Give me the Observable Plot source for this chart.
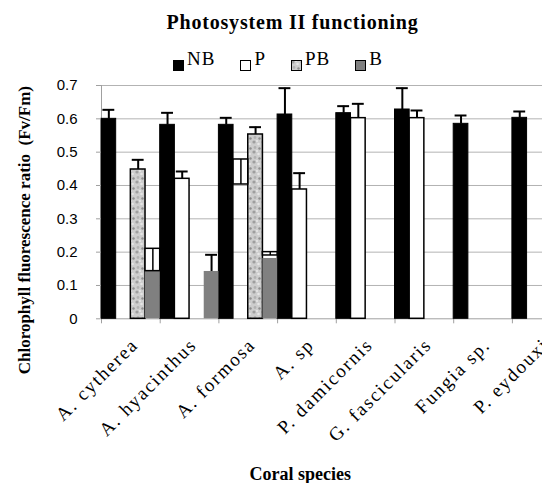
<!DOCTYPE html>
<html>
<head>
<meta charset="utf-8">
<script src="https://cdn.jsdelivr.net/npm/d3@7"></script>
<script src="https://cdn.jsdelivr.net/npm/@observablehq/plot@0.6"></script>
<style>
  html, body { margin: 0; padding: 0; background: #fff; overflow: hidden; width: 542px; height: 483px; }
  #head { position: relative; width: 542px; height: 70px; z-index: 0; }
  #title { position: absolute; left: 0; width: 585px; top: 12px; text-align: center;
           font-family: "Liberation Serif"; font-weight: bold; font-size: 20px; line-height: 20px;
           letter-spacing: 0.8px; white-space: nowrap; color: #000; }
  #legend { position: absolute; left: 173px; top: 49px; display: flex; gap: 25px;
            font-family: "Liberation Serif"; font-size: 19px; line-height: 19px; color: #000; }
  .item { display: flex; align-items: flex-start; }
  .item svg { margin-top: 10.5px; margin-right: 3px; display: block; }
  .item span { letter-spacing: 1px; white-space: nowrap; }
  #chart { position: relative; z-index: 1; }
  #chart svg { display: block; max-width: none !important; overflow: visible; background: transparent !important; }
  #defs { position: absolute; width: 0; height: 0; }
</style>
</head>
<body>
<svg id="defs" width="0" height="0">
  <defs>
    <pattern id="pbTexture" patternUnits="userSpaceOnUse" width="9" height="10">
      <rect width="9" height="10" fill="#cdcdcd"></rect>
      <circle cx="2" cy="2" r="1.6" fill="#9e9e9e"></circle>
      <circle cx="6.5" cy="4" r="1.3" fill="#e6e6e6"></circle>
      <circle cx="3" cy="7.5" r="1.4" fill="#b2b2b2"></circle>
      <circle cx="7.5" cy="8.5" r="1.2" fill="#8e8e8e"></circle>
      <circle cx="5" cy="1" r="0.9" fill="#ececec"></circle>
    </pattern>
  </defs>
</svg>
<div id="head">
  <div id="title"></div>
  <div id="legend"></div>
</div>
<div id="chart"></div>
<script>
// ---------- data ----------
const chartTitle = "Photosystem II functioning";
const xTitle = "Coral species";
const yTitle = "Chlorophyll fluorescence ratio\u00a0 (Fv/Fm)";
const species = ["A. cytherea", "A. hyacinthus", "A. formosa", "A. sp", "P. damicornis", "G. fascicularis", "Fungia sp.", "P. eydouxi"];
const series = ["NB", "P", "PB", "B"];
const nbMean = [0.600, 0.582, 0.582, 0.613, 0.617, 0.628, 0.585, 0.603];
const nbErr  = [0.027, 0.036, 0.021, 0.079, 0.021, 0.064, 0.025, 0.019];
const pMean  = [null, 0.420, null, 0.388, 0.602, 0.602, null, null];
const pErr   = [null, 0.022, null, 0.049, 0.043, 0.023, null, null];
const pbMean = [0.448, null, 0.553, null, null, null, null, null];
const pbErr  = [0.029, null, 0.022, null, null, null, null, null];
const bMean  = [0.143, 0.142, 0.181, null, null, null, null, null];
const bErr   = [null, 0.050, null, null, null, null, null, null];
// error ranges drawn as open boxes in the original
const boxSpecies = ["A. cytherea", "A. formosa", "A. formosa"];
const boxSeries  = ["B", "P", "B"];
const boxLow     = [0.143, 0.403, 0.190];
const boxHigh    = [0.210, 0.478, 0.200];
const yTicks = [0, 0.1, 0.2, 0.3, 0.4, 0.5, 0.6, 0.7];
const yTickLabels = ["0", "0.1", "0.2", "0.3", "0.4", "0.5", "0.6", "0.7"];

// ---------- styles ----------
const seriesStyle = {
  NB: {fill: "black", stroke: "black", strokeWidth: 1},
  P:  {fill: "white", stroke: "black", strokeWidth: 1.5},
  PB: {fill: "url(#pbTexture)", stroke: "black", strokeWidth: 1.5},
  B:  {fill: "#808080", stroke: "none"}
};
const gridColor = "#b3b3b3";
const axisColor = "#a0a0a0";

// ---------- table ----------
const means = {NB: nbMean, P: pMean, PB: pbMean, B: bMean};
const errs = {NB: nbErr, P: pErr, PB: pbErr, B: bErr};
const rows = [];
for (const s of series) species.forEach((sp, i) => {
  if (means[s][i] != null) rows.push({species: sp, series: s, mean: means[s][i], err: errs[s][i]});
});
const boxes = boxSpecies.map((sp, i) => ({species: sp, series: boxSeries[i], lo: boxLow[i], hi: boxHigh[i]}));

// ---------- header ----------
document.getElementById("title").textContent = chartTitle;
const legend = document.getElementById("legend");
for (const s of series) {
  const item = document.createElement("div");
  item.className = "item";
  const st = seriesStyle[s];
  item.innerHTML = `<svg width="11" height="11"><rect x="0.5" y="0.5" width="10" height="10" fill="${st.fill}" stroke="black" stroke-width="1"></rect></svg><span>${s}</span>`;
  legend.appendChild(item);
}

// ---------- plot ----------
const W = 590, H = 413;
const mL = 101, mR = 19.4, mT = 15, mB = 164.7;
const band = (W - mL - mR) / species.length;
const slot = band / series.length;

const marks = [
  Plot.ruleY(yTicks.filter(d => d > 0), {stroke: gridColor, strokeWidth: 1}),
  Plot.ruleY([0], {stroke: axisColor}),
  Plot.ruleX([species[0]], {x: d => d, y1: 0, y2: 0.7, dx: -band / 2, stroke: axisColor}),
  Plot.ruleX(species, {x: d => d, y1: 0, y2: 0, dx: -band / 2, insetBottom: -5, stroke: axisColor})
];
series.forEach((s, i) => {
  const data = rows.filter(r => r.series === s);
  marks.push(Plot.barY(data, {x: "species", y: "mean", insetLeft: i * slot, insetRight: (3 - i) * slot, ...seriesStyle[s]}));
});
series.forEach((s, i) => {
  const bx = boxes.filter(b => b.series === s);
  if (!bx.length) return;
  marks.push(Plot.rectY(bx, {x: "species", y1: "lo", y2: "hi", insetLeft: i * slot, insetRight: (3 - i) * slot, fill: "white", stroke: "black", strokeWidth: 1.5}));
  marks.push(Plot.ruleX(bx, {x: "species", y1: "lo", y2: "hi", dx: (i - 1.5) * slot, stroke: "black", strokeWidth: 1.5}));
});
series.forEach((s, i) => {
  const data = rows.filter(r => r.series === s && r.err != null);
  marks.push(Plot.ruleX(data, {x: "species", y1: "mean", y2: d => d.mean + d.err, dx: (i - 1.5) * slot, stroke: "black", strokeWidth: 2}));
  marks.push(Plot.tickY(data, {x: "species", y: d => d.mean + d.err, insetLeft: i * slot + 1.4, insetRight: (3 - i) * slot + 1.4, stroke: "black", strokeWidth: 2}));
});
marks.push(Plot.axisY({ticks: yTicks, tickFormat: d => yTickLabels[yTicks.indexOf(d)], tickSize: 5, tickPadding: 19,
  stroke: axisColor, fill: "black", fontSize: 15, fontFamily: "Liberation Sans", label: null}));
marks.push(Plot.axisX({tickSize: 0, tickRotate: -45, tickPadding: 23, dx: 4, fill: "black",
  fontSize: 19, fontFamily: "Liberation Serif", label: null}));
marks.push(Plot.text([yTitle], {text: d => d, frameAnchor: "left", textAnchor: "middle", lineAnchor: "middle",
  rotate: -90, dx: -77, dy: 28,
  fontFamily: "Liberation Serif", fontWeight: "bold", fontSize: 17, fill: "black", ariaLabel: "ytitle"}));
marks.push(Plot.text([xTitle], {text: d => d, frameAnchor: "bottom", textAnchor: "middle", lineAnchor: "middle",
  dx: -36, dy: 155,
  fontFamily: "Liberation Serif", fontWeight: "bold", fontSize: 18, fill: "black", ariaLabel: "xtitle"}));

const svg = Plot.plot({
  width: W, height: H,
  marginLeft: mL, marginRight: mR, marginTop: mT, marginBottom: mB,
  style: {maxWidth: "none", overflow: "visible", background: "transparent"},
  x: {type: "band", domain: species, padding: 0, round: false},
  y: {domain: [0, 0.7]},
  marks
});
svg.style.maxWidth = "none";
svg.style.overflow = "visible";
document.getElementById("chart").appendChild(svg);
const sel = d3.select(svg);
sel.selectAll('g[aria-label="x-axis tick label"] text').attr("letter-spacing", "1.8px");
sel.selectAll('g[aria-label="ytitle"] text').attr("letter-spacing", "1.4px");
sel.selectAll('g[aria-label="xtitle"] text').attr("letter-spacing", "1.6px");
</script>
</body>
</html>
